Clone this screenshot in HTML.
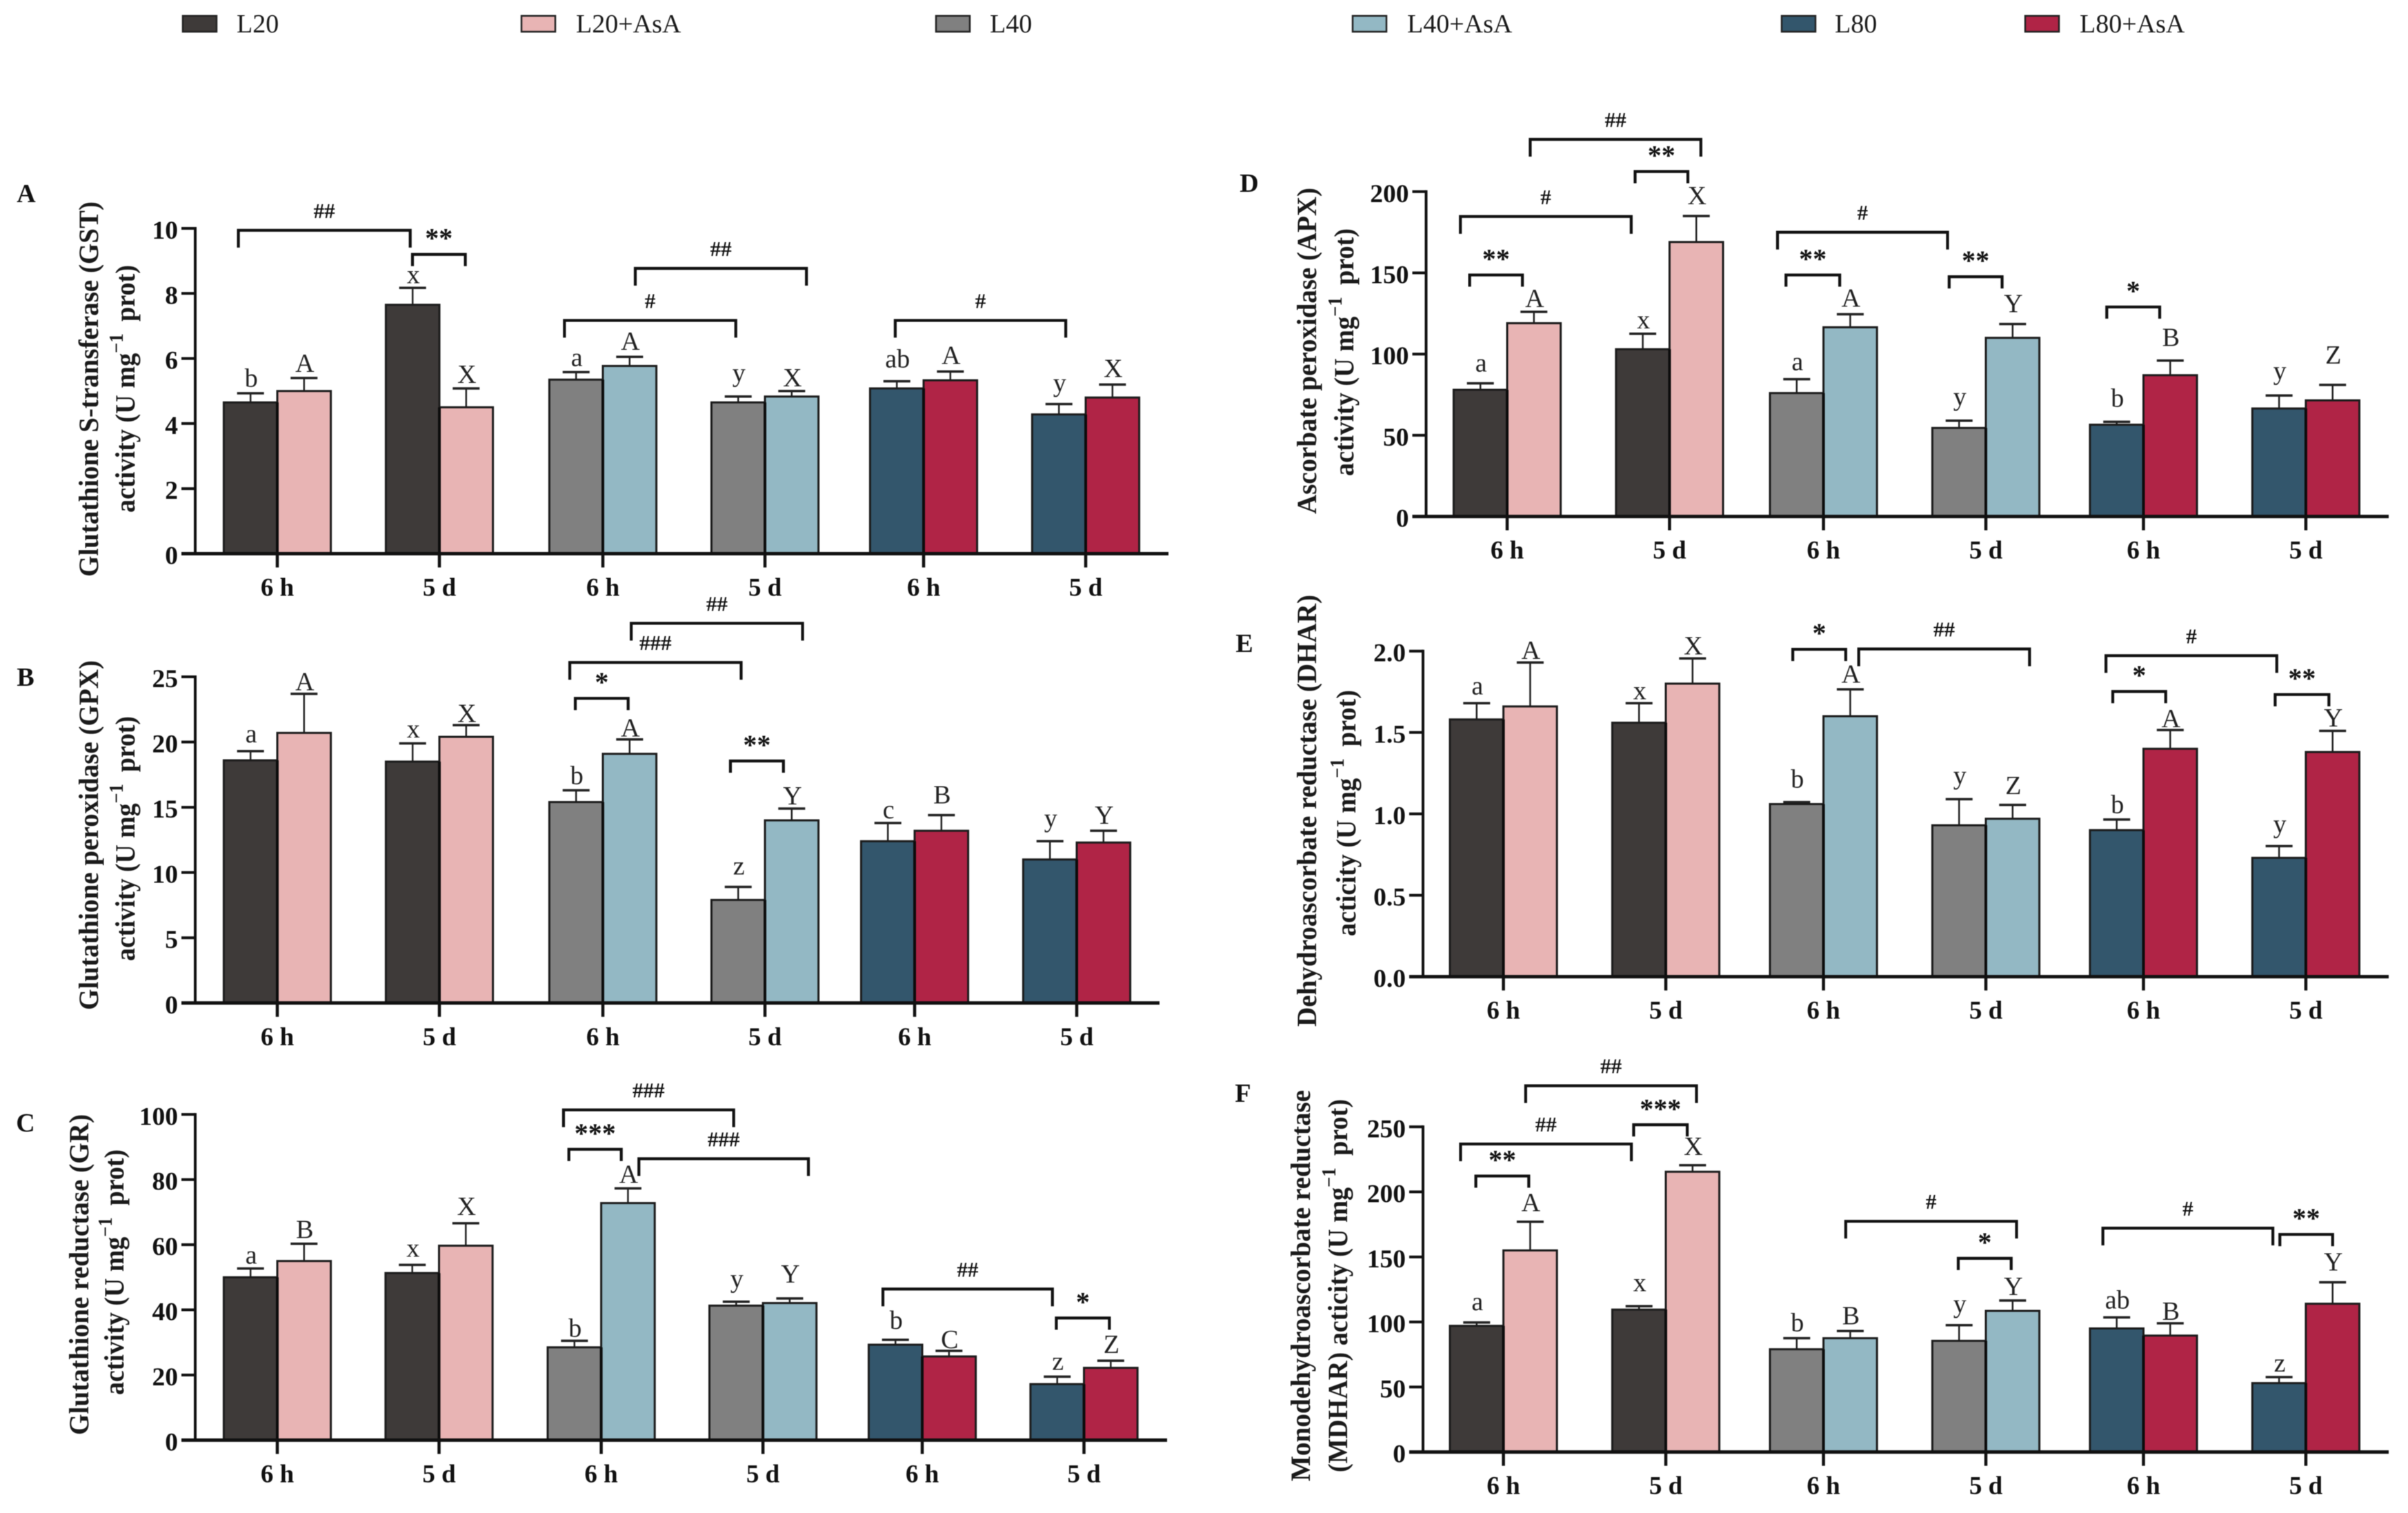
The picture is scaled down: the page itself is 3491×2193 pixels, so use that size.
<!DOCTYPE html>
<html lang="en">
<head>
<meta charset="utf-8">
<title>Antioxidant enzyme activity bar charts</title>
<style>
html,body{margin:0;padding:0;background:#fff;}
body{width:3491px;height:2193px;overflow:hidden;}
svg{display:block;font-family:"Liberation Serif",serif;filter:blur(0.6px);}
.panel-letter{font-size:38px;font-weight:bold;text-anchor:middle;fill:#111;}
.legend-text{font-size:38px;fill:#1a1a1a;}
.axis-title{font-size:40px;font-weight:bold;fill:#1a1a1a;}
.sup{font-size:28px;}
</style>
</head>
<body>
<svg id="figure" xmlns="http://www.w3.org/2000/svg" width="3491" height="2193" viewBox="0 0 3491 2193">
  <rect width="3491" height="2193" fill="#fff"/>

  <g>
    <g><rect x="265" y="23" width="49" height="23" fill="#3e3a39" stroke="#222" stroke-width="2.5"/><text class="legend-text" x="343" y="47">L20</text></g>
    <g><rect x="756" y="23" width="49" height="23" fill="#e8b4b4" stroke="#222" stroke-width="2.5"/><text class="legend-text" x="835" y="47">L20+AsA</text></g>
    <g><rect x="1357" y="23" width="49" height="23" fill="#808080" stroke="#222" stroke-width="2.5"/><text class="legend-text" x="1435" y="47">L40</text></g>
    <g><rect x="1961" y="23" width="49" height="23" fill="#93b8c4" stroke="#222" stroke-width="2.5"/><text class="legend-text" x="2040" y="47">L40+AsA</text></g>
    <g><rect x="2583" y="23" width="49" height="23" fill="#33566c" stroke="#222" stroke-width="2.5"/><text class="legend-text" x="2660" y="47">L80</text></g>
    <g><rect x="2936" y="23" width="49" height="23" fill="#b02446" stroke="#222" stroke-width="2.5"/><text class="legend-text" x="3015" y="47">L80+AsA</text></g>
  </g>

  <text class="panel-letter" x="38" y="293">A</text>
  <text class="panel-letter" x="37" y="994">B</text>
  <text class="panel-letter" x="37" y="1640">C</text>
  <text class="panel-letter" x="1811" y="278">D</text>
  <text class="panel-letter" x="1804" y="945">E</text>
  <text class="panel-letter" x="1802" y="1597">F</text>

  <text class="axis-title" transform="translate(142,836) rotate(-90)" textLength="544" lengthAdjust="spacingAndGlyphs">Glutathione S-transferase (GST)</text>
  <text class="axis-title" transform="translate(195,743) rotate(-90)" textLength="359" lengthAdjust="spacingAndGlyphs">activity (U mg<tspan class="sup" dy="-17">−1</tspan><tspan dy="17" dx="8"> prot)</tspan></text>

  <text class="axis-title" transform="translate(142,1464) rotate(-90)" textLength="507" lengthAdjust="spacingAndGlyphs">Glutathione peroxidase (GPX)</text>
  <text class="axis-title" transform="translate(195,1393) rotate(-90)" textLength="355" lengthAdjust="spacingAndGlyphs">activity (U mg<tspan class="sup" dy="-17">−1</tspan><tspan dy="17" dx="8"> prot)</tspan></text>

  <text class="axis-title" transform="translate(128,2080) rotate(-90)" textLength="465" lengthAdjust="spacingAndGlyphs">Glutathione reductase (GR)</text>
  <text class="axis-title" transform="translate(179,2022) rotate(-90)" textLength="356" lengthAdjust="spacingAndGlyphs">activity (U mg<tspan class="sup" dy="-17">−1</tspan><tspan dy="17" dx="8"> prot)</tspan></text>

  <text class="axis-title" transform="translate(1908,745) rotate(-90)" textLength="473" lengthAdjust="spacingAndGlyphs">Ascorbate peroxidase (APX)</text>
  <text class="axis-title" transform="translate(1962,690) rotate(-90)" textLength="359" lengthAdjust="spacingAndGlyphs">activity (U mg<tspan class="sup" dy="-17">−1</tspan><tspan dy="17" dx="8"> prot)</tspan></text>

  <text class="axis-title" transform="translate(1908,1488) rotate(-90)" textLength="626" lengthAdjust="spacingAndGlyphs">Dehydroascorbate reductase (DHAR)</text>
  <text class="axis-title" transform="translate(1965,1357) rotate(-90)" textLength="357" lengthAdjust="spacingAndGlyphs">acticity (U mg<tspan class="sup" dy="-17">−1</tspan><tspan dy="17" dx="8"> prot)</tspan></text>

  <text class="axis-title" transform="translate(1899,2147) rotate(-90)" textLength="567" lengthAdjust="spacingAndGlyphs">Monodehydroascorbate reductase</text>
  <text class="axis-title" transform="translate(1953,2134) rotate(-90)" textLength="541" lengthAdjust="spacingAndGlyphs">(MDHAR) acticity (U mg<tspan class="sup" dy="-17">−1</tspan><tspan dy="17" dx="8"> prot)</tspan></text>

  <g id="charts"></g>
</svg>

<script>
// Shared categories and series (order inside each panel: L20, L20+AsA, L40, L40+AsA, L80, L80+AsA, 6 h then 5 d)
const timeLabels = ['6 h', '5 d', '6 h', '5 d', '6 h', '5 d'];
const seriesColors = ['#3e3a39', '#e8b4b4', '#808080', '#93b8c4', '#33566c', '#b02446'];

// Panel A: GST
const gstMeans = [4.65, 5.0, 7.65, 4.5, 5.35, 5.77, 4.65, 4.83, 5.08, 5.33, 4.28, 4.8];
const gstErrors = [0.28, 0.4, 0.52, 0.58, 0.23, 0.28, 0.18, 0.17, 0.22, 0.27, 0.32, 0.4];
const gstLetters = ['b', 'A', 'x', 'X', 'a', 'A', 'y', 'X', 'ab', 'A', 'y', 'X'];
const gstTicks = [0, 2, 4, 6, 8, 10];
const gstTickLabels = ['0', '2', '4', '6', '8', '10'];
const gstBrackets = [[-0.24, 0.82, 9.94, '##'], [0.834, 1.16, 9.2, '**'], [2.2, 3.256, 8.77, '##'], [1.763, 2.82, 7.17, '#'], [3.825, 4.877, 7.17, '#']];

// Panel B: GPX
const gpxMeans = [18.6, 20.7, 18.5, 20.4, 15.4, 19.1, 7.9, 14.0, 12.4, 13.2, 11.0, 12.3];
const gpxErrors = [0.7, 3.0, 1.4, 0.9, 0.9, 1.1, 1.0, 0.9, 1.4, 1.2, 1.4, 0.9];
const gpxLetters = ['a', 'A', 'x', 'X', 'b', 'A', 'z', 'Y', 'c', 'B', 'y', 'Y'];
const gpxTicks = [0, 5, 10, 15, 20, 25];
const gpxTickLabels = ['0', '5', '10', '15', '20', '25'];
const gpxBrackets = [[2.175, 3.232, 29.1, '##'], [1.796, 2.853, 26.1, '###'], [1.83, 2.156, 23.35, '*'], [2.787, 3.114, 18.55, '**']];

// Panel C: GR
const grMeans = [50, 55, 51.3, 59.7, 28.5, 72.8, 41.3, 42.1, 29.3, 25.7, 17.2, 22.2];
const grErrors = [2.7, 5.3, 2.5, 6.9, 2.0, 4.5, 1.2, 1.4, 1.5, 1.7, 2.3, 2.2];
const grLetters = ['a', 'B', 'x', 'X', 'b', 'A', 'y', 'Y', 'b', 'C', 'z', 'Z'];
const grTicks = [0, 20, 40, 60, 80, 100];
const grTickLabels = ['0', '20', '40', '60', '80', '100'];
const grBrackets = [[1.767, 2.819, 101.4, '###'], [1.8, 2.124, 89.3, '***'], [2.233, 3.281, 86.4, '###'], [3.757, 4.805, 46.4, '##'], [4.829, 5.157, 37.5, '*']];

// Panel D: APX
const apxMeans = [78, 119, 103, 169, 76, 116.5, 54.5, 110, 56.5, 87, 66.5, 71.5];
const apxErrors = [4, 7, 9.5, 16, 8.5, 8, 4.5, 8.5, 1.8, 9, 8, 9.5];
const apxLetters = ['a', 'A', 'x', 'X', 'a', 'A', 'y', 'Y', 'b', 'B', 'y', 'Z'];
const apxTicks = [0, 50, 100, 150, 200];
const apxTickLabels = ['0', '50', '100', '150', '200'];
const apxBrackets = [[0.142, 1.193, 232.2, '##'], [0.788, 1.113, 212.4, '**'], [-0.288, 0.764, 184.7, '#'], [-0.231, 0.094, 148.7, '**'], [1.717, 2.764, 175, '#'], [1.769, 2.1, 148.7, '**'], [2.774, 3.1, 147.6, '**'], [3.774, 4.1, 129, '*']];

// Panel E: DHAR
const dharMeans = [1.58, 1.66, 1.56, 1.8, 1.06, 1.6, 0.93, 0.97, 0.9, 1.4, 0.73, 1.38];
const dharErrors = [0.1, 0.27, 0.12, 0.155, 0.012, 0.165, 0.16, 0.085, 0.065, 0.115, 0.072, 0.13];
const dharLetters = ['a', 'A', 'x', 'X', 'b', 'A', 'y', 'Z', 'b', 'A', 'y', 'Y'];
const dharTicks = [0, 0.5, 1, 1.5, 2];
const dharTickLabels = ['0.0', '0.5', '1.0', '1.5', '2.0'];
const dharBrackets = [[1.811, 2.137, 2.011, '*'], [2.217, 3.269, 2.013, '##'], [3.769, 4.821, 1.972, '#'], [3.811, 4.137, 1.752, '*'], [4.811, 5.142, 1.733, '**']];

// Panel F: MDHAR
const mdharMeans = [97, 155, 109.5, 215.5, 79, 87.5, 85.5, 108.5, 95, 89.5, 53, 114];
const mdharErrors = [2.6, 22, 2.6, 5, 8.5, 5.5, 12, 8, 8.5, 9.5, 4.6, 16.5];
const mdharLetters = ['a', 'A', 'x', 'X', 'b', 'B', 'y', 'Y', 'ab', 'B', 'z', 'Y'];
const mdharTicks = [0, 50, 100, 150, 200, 250];
const mdharTickLabels = ['0', '50', '100', '150', '200', '250'];
const mdharBrackets = [[0.137, 1.189, 281.6, '##'], [0.802, 1.132, 251.6, '***'], [-0.264, 0.788, 236.8, '##'], [-0.17, 0.156, 212.2, '**'], [2.137, 3.189, 177.4, '#'], [2.83, 3.156, 148.9, '*'], [3.75, 4.797, 172.1, '#'], [4.84, 5.165, 167.3, '**']];

const SVGNS = 'http://www.w3.org/2000/svg';
const root = document.getElementById('charts');
const BAR_W = 77.6;

function make(tag, parent, attrs) {
  const el = document.createElementNS(SVGNS, tag);
  for (const k in attrs) el.setAttribute(k, attrs[k]);
  parent.appendChild(el);
  return el;
}

function drawPanel(p) {
  const yScale = v => p.y0 - (v - p.ticks[0]) / (p.ticks[p.ticks.length - 1] - p.ticks[0]) * (p.y0 - p.yTop);
  const groupX = g => p.triples[Math.floor(g / 2)] + (g % 2) * p.inner;
  const xAt = u => { const g = Math.round(u); return groupX(g) + (u - g) * p.inner; };

  const panel = make('g', root, {});
  
  

  // bars + error bars + letters
  p.means.forEach((m, i) => {
    const g = Math.floor(i / 2);
    const side = i % 2;
    const cx = groupX(g) + (side === 0 ? -BAR_W / 2 : BAR_W / 2);
    const color = seriesColors[Math.floor(i / 4) * 2 + side];
    const top = yScale(m);
    const errTop = yScale(m + p.errors[i]);

    const stem = make('line', panel, { x1: cx, x2: cx, y1: top, y2: errTop, stroke: '#222', 'stroke-width': 2.5 });
    
    

    const cap = make('line', panel, { x1: cx - 19.5, x2: cx + 19.5, y1: errTop, y2: errTop, stroke: '#222', 'stroke-width': 3.5 });
    
    

    const bar = make('rect', panel, { x: cx - BAR_W / 2, y: top, width: BAR_W, height: p.y0 - top, fill: color, stroke: '#1c1c1c', 'stroke-width': 3 });
    
    

    const letter = make('text', panel, { x: cx + 1, y: errTop - p.lifts[i], 'text-anchor': 'middle', 'font-size': 38, fill: '#222' });
    letter.textContent = p.letters[i];
    
    
  });

  // dark divider between the two bars of each pair
  timeLabels.forEach((lab, g) => {
    const lower = yScale(Math.min(p.means[g * 2], p.means[g * 2 + 1]));
    const divider = make('line', panel, { x1: groupX(g), x2: groupX(g), y1: lower, y2: p.y0, stroke: '#0c0c0c', 'stroke-width': 4 });
    
    
  });

  // y axis
  const yLine = make('line', panel, { x1: p.axisX, x2: p.axisX, y1: p.yTop - 2, y2: p.y0, stroke: '#111', 'stroke-width': 4 });
  
  

  p.ticks.forEach((t, i) => {
    const y = yScale(t);
    const tick = make('line', panel, { x1: p.axisX - 20, x2: p.axisX, y1: y, y2: y, stroke: '#111', 'stroke-width': 4 });
    
    

    const label = make('text', panel, { x: p.axisX - 25, y: y + 15, 'text-anchor': 'end', 'font-size': 37.5, 'font-weight': 'bold', fill: '#111' });
    label.textContent = p.tickLabels[i];
    
    
  });

  // x axis
  const xLine = make('line', panel, { x1: p.axisX - 20, x2: p.xEnd, y1: p.y0, y2: p.y0, stroke: '#111', 'stroke-width': 5 });
  
  

  timeLabels.forEach((lab, g) => {
    const x = groupX(g);
    const tick = make('line', panel, { x1: x, x2: x, y1: p.y0, y2: p.y0 + 20, stroke: '#111', 'stroke-width': 4.5 });
    
    

    const label = make('text', panel, { x: x, y: p.y0 + 61, 'text-anchor': 'middle', 'font-size': 37, 'font-weight': 'bold', fill: '#111' });
    label.textContent = lab;
    
    
  });

  // significance brackets
  p.brackets.forEach(b => {
    const x1 = xAt(b[0]);
    const x2 = xAt(b[1]);
    const y = yScale(b[2]);
    const isHash = b[3].charAt(0) === '#';
    const drop = isHash ? 25 : 17;

    const path = make('path', panel, { d: 'M' + x1 + ' ' + (y + drop) + 'V' + y + 'H' + x2 + 'V' + (y + drop), fill: 'none', stroke: '#111', 'stroke-width': 4.2 });
    
    

    const mark = make('text', panel, {
      x: (x1 + x2) / 2,
      y: isHash ? y - 18 : y - 10,
      'text-anchor': 'middle',
      'font-size': isHash ? 31 : 40,
      'font-weight': 'bold',
      fill: '#111'
    });
    mark.textContent = b[3];
    
    
  });
}

drawPanel({ means: gstMeans, errors: gstErrors, letters: gstLetters, ticks: gstTicks, tickLabels: gstTickLabels, brackets: gstBrackets, lifts: [9.5, 9, 7, 8, 9, 10, 22, 7, 20, 11, 18, 11], axisX: 283, y0: 802.5, yTop: 331, triples: [402, 874, 1339], inner: 235, xEnd: 1694 });
drawPanel({ means: gpxMeans, errors: gpxErrors, letters: gpxLetters, ticks: gpxTicks, tickLabels: gpxTickLabels, brackets: gpxBrackets, lifts: [13, 5, 8.5, 4.5, 9, 4.5, 18, 6, 7, 17, 21, 10], axisX: 283, y0: 1453.8, yTop: 981, triples: [402, 874, 1326], inner: 235, xEnd: 1681 });
drawPanel({ means: grMeans, errors: grErrors, letters: grLetters, ticks: grTicks, tickLabels: grTickLabels, brackets: grBrackets, lifts: [7, 8, 12, 12, 6, 8, 21, 23, 16, 4, 10, 11], axisX: 283, y0: 2087.4, yTop: 1615.3, triples: [402, 871.6, 1337], inner: 234.5, xEnd: 1692 });
drawPanel({ means: apxMeans, errors: apxErrors, letters: apxLetters, ticks: apxTicks, tickLabels: apxTickLabels, brackets: apxBrackets, lifts: [17, 7, 8, 17, 13, 11, 22, 17, 22, 21, 23, 31], axisX: 2067.5, y0: 748.6, yTop: 277.8, triples: [2185, 2643.6, 3107.5], inner: 235.4, xEnd: 3463 });
drawPanel({ means: dharMeans, errors: dharErrors, letters: dharLetters, ticks: dharTicks, tickLabels: dharTickLabels, brackets: dharBrackets, lifts: [12.5, 5, 5.6, 5.6, 21, 9.5, 21.7, 15.6, 9.5, 4, 19.5, 6.5], axisX: 2063, y0: 1415.6, yTop: 943.7, triples: [2179.6, 2643.6, 3107.5], inner: 235.4, xEnd: 3463 });
drawPanel({ means: mdharMeans, errors: mdharErrors, letters: mdharLetters, ticks: mdharTicks, tickLabels: mdharTickLabels, brackets: mdharBrackets, lifts: [17.6, 15.5, 22, 15, 10, 10, 18.5, 8, 13, 5, 8, 17], axisX: 2063, y0: 2104.6, yTop: 1633.3, triples: [2179.6, 2643.6, 3107.5], inner: 235.4, xEnd: 3463 });
</script>
</body>
</html>
